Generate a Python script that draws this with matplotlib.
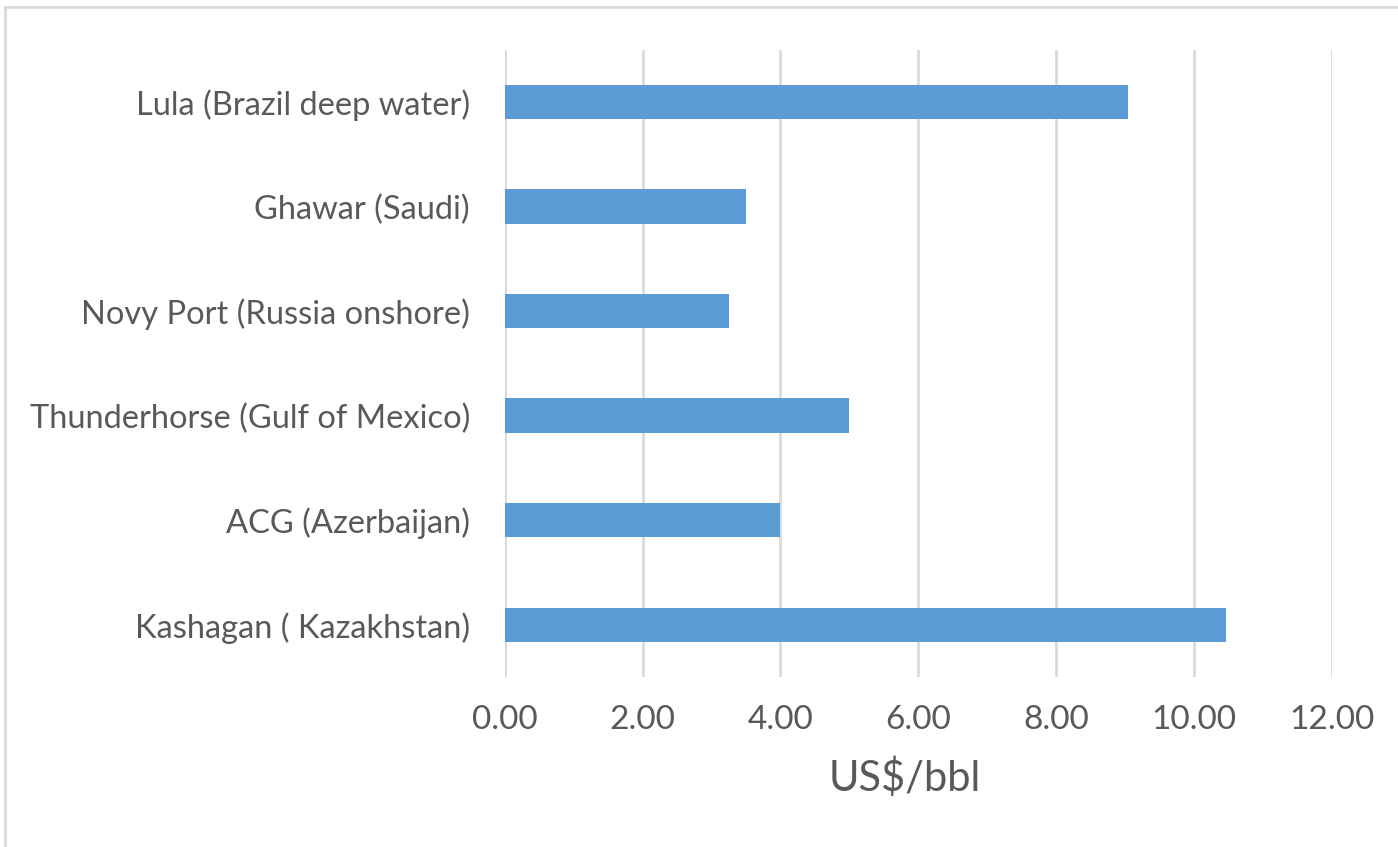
import matplotlib.pyplot as plt
from matplotlib.lines import Line2D

fields = ["Kashagan ( Kazakhstan)", "ACG (Azerbaijan)", "Thunderhorse (Gulf of Mexico)",
          "Novy Port (Russia onshore)", "Ghawar (Saudi)", "Lula (Brazil deep water)"]
cost = [10.46, 4.0, 5.0, 3.25, 3.50, 9.04]
xticks = [0, 2, 4, 6, 8, 10, 12]

plt.rcParams['font.family'] = ['Lato', 'DejaVu Sans']
grey = '#595959'

fig = plt.figure(figsize=(13.98, 8.47), dpi=100)
ax = fig.add_axes([0.361, 0.2007, 0.5918, 0.7403])

ax.barh(range(len(fields)), cost, height=0.33, color='#5B9BD5', zorder=3)
ax.set_ylim(-0.5, len(fields) - 0.5)
ax.set_xlim(0, 12)
ax.set_xticks(xticks)
ax.set_xticklabels([f"{t:.2f}" for t in xticks])
ax.set_yticks(range(len(fields)))
ax.set_yticklabels(fields)
ax.tick_params(length=0, colors=grey)
ax.tick_params(axis='x', labelsize=24, pad=20)
ax.tick_params(axis='y', labelsize=23.5, pad=25)
ax.grid(axis='x', color='#D9D9D9', linewidth=2, zorder=0)
for s in ax.spines.values():
    s.set_visible(False)
ax.set_xlabel("US$/bbl", fontsize=30, color=grey)
ax.xaxis.set_label_coords(0.483, -0.128)

# chart frame (top and left edges)
fig.add_artist(Line2D([5 / 1398, 5 / 1398], [0, 1 - 7 / 847], color='#D9D9D9', lw=2))
fig.add_artist(Line2D([5 / 1398, 1], [1 - 7 / 847, 1 - 7 / 847], color='#D9D9D9', lw=2))

fig.savefig("out.png", dpi=100)
